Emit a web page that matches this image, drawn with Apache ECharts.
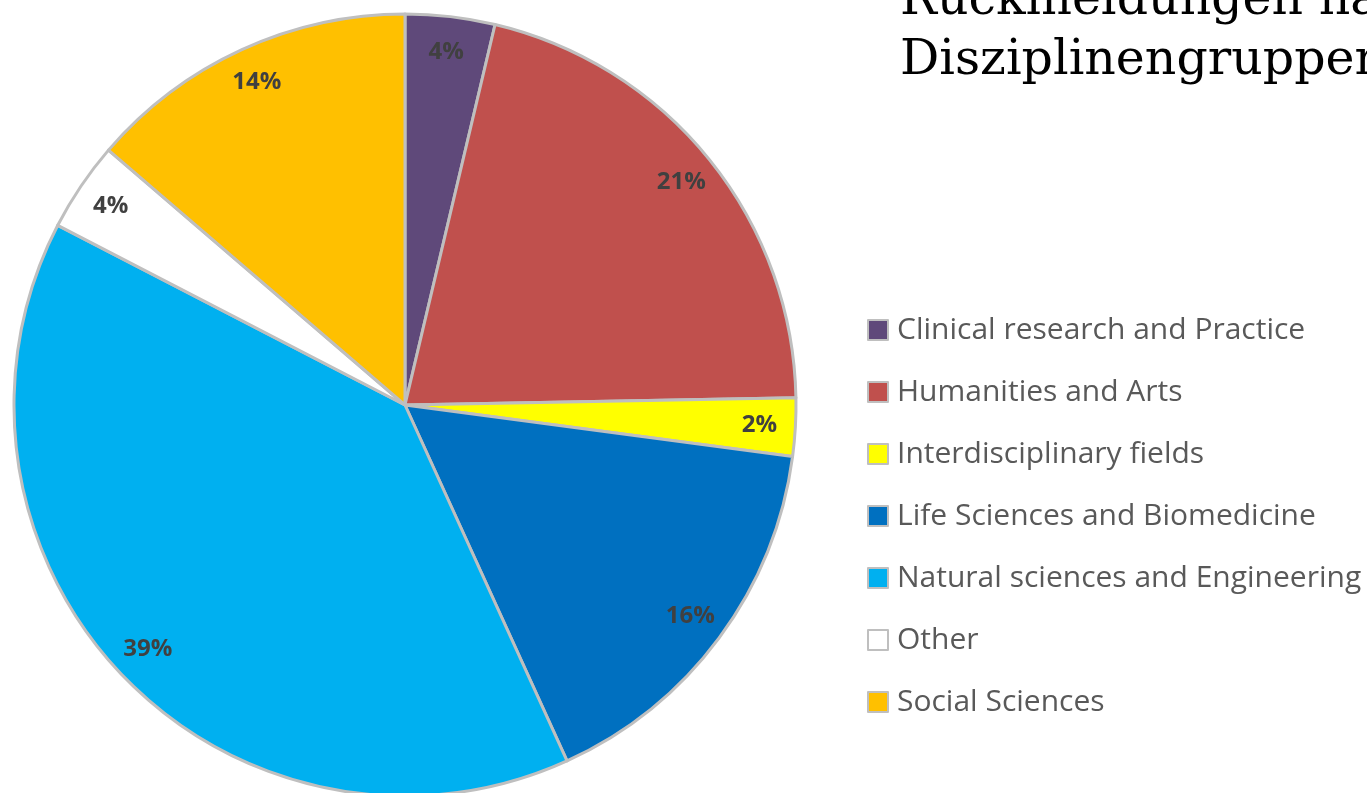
<!DOCTYPE html>
<html>
<head>
<meta charset="utf-8">
<script src="https://cdn.jsdelivr.net/npm/echarts@6/dist/echarts.min.js"></script>
<style>
  html, body { margin: 0; padding: 0; background: #ffffff; }
  #chart { width: 1367px; height: 793px; }
</style>
</head>
<body>
<div id="chart"></div>
<script>
// share of responses per discipline group (percent)
const categories = [
  'Clinical research and Practice',
  'Humanities and Arts',
  'Interdisciplinary fields',
  'Life Sciences and Biomedicine',
  'Natural sciences and Engineering',
  'Other',
  'Social Sciences'
];
const values = [3.7, 21.0, 2.4, 16.1, 39.4, 3.7, 13.7];
const colors = ['#5F497A', '#C0504D', '#FFFF00', '#0070C0', '#00B0F0', '#FFFFFF', '#FFC000'];

const pieData = categories.map((name, i) => ({
  name: name,
  value: values[i],
  itemStyle: { color: colors[i] }
}));

const chart = echarts.init(document.getElementById('chart'));
const option = {
  backgroundColor: '#ffffff',
  animation: false,
  title: {
    text: 'Rückmeldungen nach\nDisziplinengruppen',
    left: 900,
    top: -29,
    padding: 0,
    textStyle: {
      fontFamily: 'DejaVu Serif',
      fontWeight: 'normal',
      fontSize: 49,
      lineHeight: 60,
      color: '#000000'
    }
  },
  legend: {
    orient: 'vertical',
    left: 862,
    top: 309,
    data: categories,
    icon: 'rect',
    itemWidth: 20,
    itemHeight: 20,
    itemGap: 30,
    selectedMode: false,
    itemStyle: { borderColor: '#BFBFBF', borderWidth: 2 },
    textStyle: {
      fontFamily: 'Open Sans',
      fontSize: 30,
      lineHeight: 32,
      color: '#595959',
      padding: [0, 0, 0, 4]
    }
  },
  series: [
    {
      type: 'pie',
      center: [405, 405],
      radius: [0, 391],
      startAngle: 90,
      clockwise: true,
      silent: true,
      data: pieData,
      itemStyle: { borderColor: '#BFBFBF', borderWidth: 3 },
      label: { show: false },
      labelLine: { show: false }
    },
    {
      // transparent ring, only used to place labels near the outer edge
      type: 'pie',
      center: [405, 405],
      radius: [313, 391],
      startAngle: 90,
      clockwise: true,
      silent: true,
      data: categories.map((name, i) => ({ name: name, value: values[i] })),
      itemStyle: { color: 'rgba(0,0,0,0)', borderWidth: 0 },
      emphasis: { disabled: true },
      label: {
        show: true,
        position: 'inside',
        formatter: (p) => Math.round(p.value) + '%',
        fontFamily: 'Open Sans',
        fontWeight: 'bold',
        fontSize: 24,
        color: '#404040'
      },
      labelLine: { show: false }
    }
  ]
};
chart.setOption(option);
</script>
</body>
</html>
